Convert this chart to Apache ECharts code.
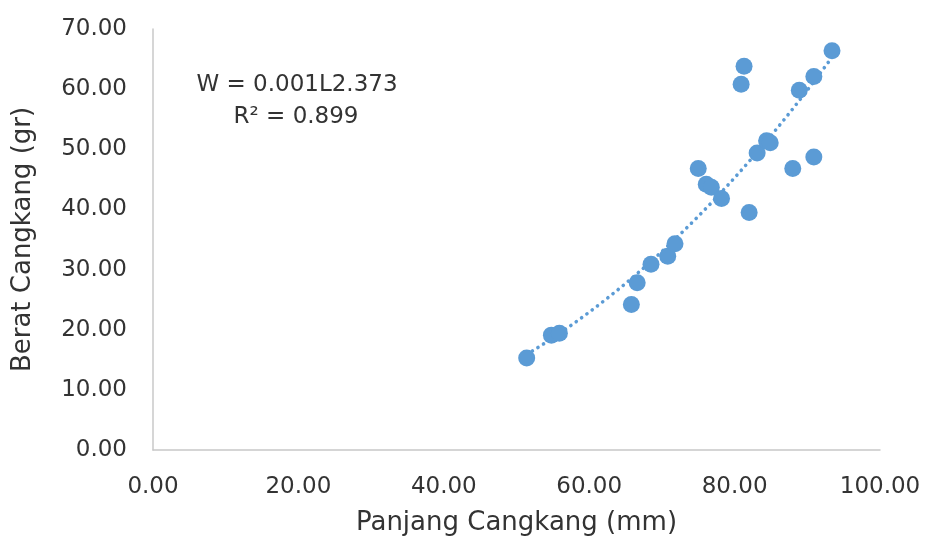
<!DOCTYPE html>
<html><head><meta charset="utf-8">
<script src="https://cdn.jsdelivr.net/npm/echarts@6/dist/echarts.min.js"></script>
<style>html,body{margin:0;padding:0;background:#fff}#c{width:925px;height:541px}</style>
</head><body><div id="c"></div>
<script>
const panjang = [51.4,54.8,55.9,65.8,66.6,68.5,70.8,71.8,75.0,76.1,76.8,78.2,82.0,80.9,81.3,83.1,84.4,84.9,88.0,88.9,90.9,90.9,93.4];
const berat   = [15.3,19.1,19.4,24.2,27.8,30.9,32.2,34.3,46.8,44.2,43.7,41.8,39.5,60.8,63.8,49.4,51.4,51.1,46.8,59.8,48.7,62.1,66.4];
const xTicks = [0,20,40,60,80,100];
const yTicks = [0,10,20,30,40,50,60,70];
const eqText = ['W = 0.001L2.373', 'R² = 0.899'];

// power trendline fitted from the data (least squares on logs)
const n = panjang.length;
let sx=0, sy=0, sxx=0, sxy=0;
for (let i=0;i<n;i++){const lx=Math.log(panjang[i]), ly=Math.log(berat[i]); sx+=lx; sy+=ly; sxx+=lx*lx; sxy+=lx*ly;}
const b = (n*sxy - sx*sy)/(n*sxx - sx*sx);
const a = Math.exp((sy - b*sx)/n);
const xmin = Math.min(...panjang), xmax = Math.max(...panjang);
const trend = [];
for (let k=0;k<=60;k++){const x = xmin + (xmax-xmin)*k/60; trend.push([x, a*Math.pow(x,b)]);}

const font = 'DejaVu Sans';
const txt = '#333333';
const chart = echarts.init(document.getElementById('c'), null, {renderer:'canvas'});
chart.setOption({
  animation:false,
  grid:{left:153,right:45,top:29,bottom:91,containLabel:false,outerBoundsMode:'none'},
  xAxis:{type:'value',min:xTicks[0],max:xTicks[xTicks.length-1],interval:20,
    name:'Panjang Cangkang (mm)',nameLocation:'middle',nameGap:60,
    nameTextStyle:{fontFamily:font,fontSize:26,color:txt},
    axisLine:{show:true,lineStyle:{color:'#C8C8C8',width:1.5}},axisTick:{show:false},splitLine:{show:false},
    axisLabel:{margin:26,fontFamily:font,fontSize:23,color:txt,formatter:v=>v.toFixed(2)}},
  yAxis:{type:'value',min:yTicks[0],max:yTicks[yTicks.length-1],interval:10,
    name:'Berat Cangkang (gr)',nameLocation:'middle',nameGap:117,
    nameTextStyle:{fontFamily:font,fontSize:26,color:txt},
    axisLine:{show:true,lineStyle:{color:'#C8C8C8',width:1.5}},axisTick:{show:false},splitLine:{show:false},
    axisLabel:{margin:26,fontFamily:font,fontSize:23,color:txt,formatter:v=>v.toFixed(2)}},
  series:[
    {type:'line',data:trend,showSymbol:false,symbol:'none',smooth:false,z:1,
      lineStyle:{color:'#5B9BD5',width:3.6,type:[0.1,6.5],cap:'round'}},
    {type:'scatter',data:panjang.map((x,i)=>[x,berat[i]]),symbolSize:17,z:2,
      itemStyle:{color:'#5B9BD5',opacity:1}}
  ],
  graphic:[
    {type:'text',x:297,y:85,style:{text:eqText[0],fontFamily:font,fontSize:23,fill:txt,align:'center',verticalAlign:'middle'}},
    {type:'text',x:296,y:117,style:{text:eqText[1],fontFamily:font,fontSize:23,fill:txt,align:'center',verticalAlign:'middle'}}
  ]
});
</script></body></html>
